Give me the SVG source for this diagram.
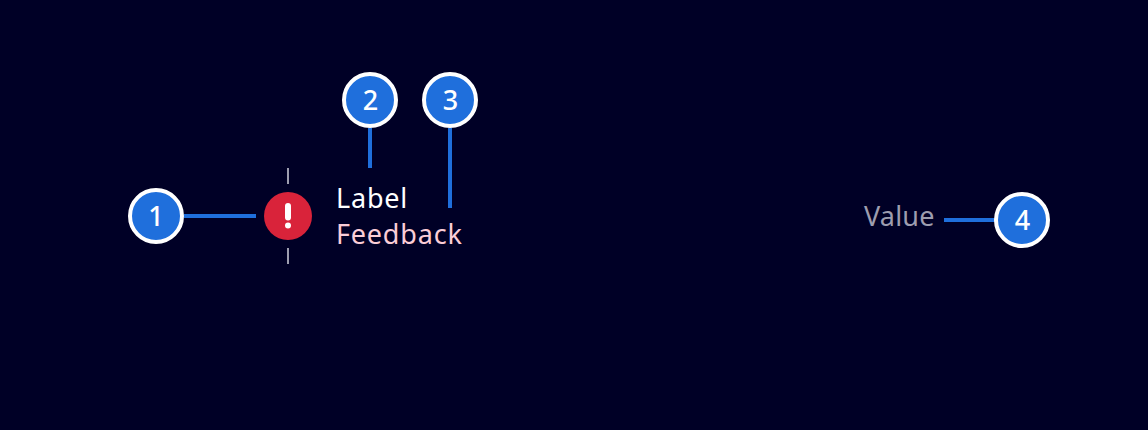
<svg xmlns="http://www.w3.org/2000/svg" width="1148" height="430" viewBox="0 0 1148 430">
<style>
.bg{fill:#000026}
.conn{fill:#1f6fdc}
.tick{fill:#9d9daf}
.badge circle{fill:#1f6fdc;stroke:#fff;stroke-width:4}
.badge text{font-family:"Noto Sans",sans-serif;font-size:27px;font-weight:500;fill:#fff;text-anchor:middle}
.t{font-family:"Noto Sans",sans-serif;font-size:27px;letter-spacing:.8px;font-weight:400}
</style>
<rect class="bg" width="1148" height="430"/>
<g id="connectors">
<rect class="conn" x="184" y="214" width="72" height="4"/>
<rect class="conn" x="368" y="128" width="4" height="40"/>
<rect class="conn" x="448" y="128" width="4" height="80"/>
<rect class="conn" x="944" y="218" width="52" height="4"/>
</g>
<g id="status-icon">
<rect class="tick" x="287" y="168" width="2" height="16"/>
<rect class="tick" x="287" y="248" width="2" height="16"/>
<circle cx="288" cy="216" r="24" fill="#d9233a"/>
<rect x="285" y="203" width="6" height="17.500" rx="3" fill="#fff"/>
<circle cx="288" cy="225.500" r="3" fill="#fff"/>
</g>
<g id="label"><text class="t" x="336" y="208" fill="#fff">Label</text></g>
<g id="feedback"><text class="t" x="336" y="244" fill="#fbcdd7">Feedback</text></g>
<g id="value"><text class="t" x="864" y="226" fill="#9d9daf" style="letter-spacing:.2px">Value</text></g>
<g id="badge-1" class="badge"><circle cx="156" cy="216" r="26"/><text x="156" y="226">1</text></g>
<g id="badge-2" class="badge"><circle cx="370" cy="100" r="26"/><text x="370.500" y="110">2</text></g>
<g id="badge-3" class="badge"><circle cx="450" cy="100" r="26"/><text x="450.500" y="110">3</text></g>
<g id="badge-4" class="badge"><circle cx="1022" cy="220" r="26"/><text x="1022.500" y="230">4</text></g>
</svg>
